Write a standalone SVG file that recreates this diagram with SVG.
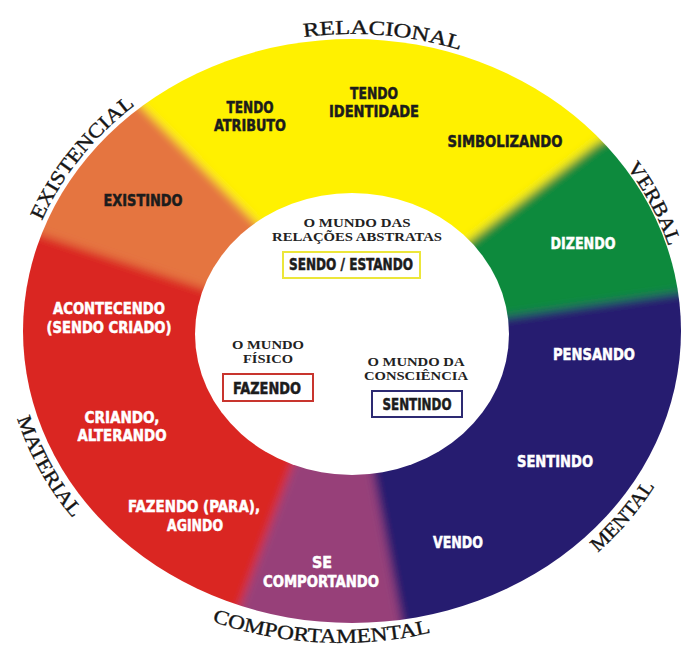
<svg xmlns="http://www.w3.org/2000/svg" width="685" height="647" viewBox="0 0 685 647">
<defs>
<style>
.proc{font-family:"Liberation Sans Narrow","Arial Narrow","DejaVu Sans Condensed","Liberation Sans",sans-serif;font-weight:bold;font-size:16px;text-anchor:middle;stroke-width:0.5px}
.dk{fill:#1c1c1c;stroke:#1c1c1c}
.lt{fill:#ffffff;stroke:#ffffff}
.cat{font-family:"Liberation Serif","Times New Roman",serif;font-size:20px;fill:#151515;stroke:#151515;stroke-width:0.35px;text-anchor:middle}
.world{font-family:"Liberation Serif","Times New Roman",serif;font-weight:bold;font-size:13px;text-anchor:middle;fill:#222}
.box{fill:#ffffff;stroke-width:2}
</style>
<clipPath id="ringClip"><ellipse cx="352" cy="331" rx="329" ry="292"/></clipPath>
<filter id="soft" x="-0.2" y="-0.2" width="1.4" height="1.4"><feGaussianBlur stdDeviation="5"/></filter>
<path id="arcRel" d="M162.8,86.2 A334,297 0 0 1 590.2,122.8"/>
<path id="arcExi" d="M19.5,359.5 A334,297 0 0 1 262.7,44.8"/>
<path id="arcVer" d="M496,66 A331,295 0 0 1 670.5,411"/>
<path id="arcMat" d="M14,253.4 A349,312 0 0 0 207.8,615.1"/>
<path id="arcMen" d="M434.6,634.1 A349,312 0 0 0 700.3,310.9"/>
<path id="arcCom" d="M182,610 A400,400 0 0 0 462,624"/>
</defs>

<g id="ring" clip-path="url(#ringClip)">
  <g filter="url(#soft)">
    <polygon id="seg-relacional" fill="#FFF100" points="352,332 255,222 143,108 3,-35 759,-35 759,53 596,144 473,238"/>
    <polygon id="seg-existencial" fill="#E57441" points="352,332 200,287 43,235 -52,204 -52,-35 3,-35 143,108 255,222"/>
    <polygon id="seg-material" fill="#DA2520" points="352,332 292,466 238,612 210,687 -52,687 -52,204 43,235 200,287"/>
    <polygon id="seg-comportamental" fill="#974079" points="352,332 373,474 401,620 416,699 210,687 238,612 292,466"/>
    <polygon id="seg-mental" fill="#281A70" points="352,332 509,316 680,292 759,281 759,699 416,699 401,620 373,474"/>
    <polygon id="seg-verbal" fill="#0B8A3E" points="352,332 473,238 596,144 759,53 759,281 680,292 509,316"/>
  </g>
</g>
<ellipse id="centre" cx="352" cy="334" rx="157" ry="141" fill="#ffffff"/>

<g id="relacional">
  <text class="cat"><textPath href="#arcRel" startOffset="50%" textLength="158" lengthAdjust="spacingAndGlyphs">RELACIONAL</textPath></text>
  <text class="proc dk" x="250" y="113" textLength="47" lengthAdjust="spacingAndGlyphs">TENDO</text>
  <text class="proc dk" x="250" y="131" textLength="72" lengthAdjust="spacingAndGlyphs">ATRIBUTO</text>
  <text class="proc dk" x="374" y="99" textLength="48" lengthAdjust="spacingAndGlyphs">TENDO</text>
  <text class="proc dk" x="374" y="117" textLength="90" lengthAdjust="spacingAndGlyphs">IDENTIDADE</text>
  <text class="proc dk" x="505" y="147" textLength="115" lengthAdjust="spacingAndGlyphs">SIMBOLIZANDO</text>
</g>
<g id="existencial">
  <text class="cat"><textPath href="#arcExi" startOffset="50%" textLength="150" lengthAdjust="spacingAndGlyphs">EXISTENCIAL</textPath></text>
  <text class="proc dk" x="143" y="206" textLength="79" lengthAdjust="spacingAndGlyphs">EXISTINDO</text>
</g>
<g id="verbal">
  <text class="cat"><textPath href="#arcVer" startOffset="50%" textLength="90" lengthAdjust="spacingAndGlyphs">VERBAL</textPath></text>
  <text class="proc lt" x="583" y="249" textLength="65" lengthAdjust="spacingAndGlyphs">DIZENDO</text>
</g>
<g id="mental">
  <text class="cat"><textPath href="#arcMen" startOffset="50%" textLength="88" lengthAdjust="spacingAndGlyphs">MENTAL</textPath></text>
  <text class="proc lt" x="594" y="360" textLength="82" lengthAdjust="spacingAndGlyphs">PENSANDO</text>
  <text class="proc lt" x="555" y="467" textLength="76" lengthAdjust="spacingAndGlyphs">SENTINDO</text>
  <text class="proc lt" x="458" y="548" textLength="50" lengthAdjust="spacingAndGlyphs">VENDO</text>
</g>
<g id="comportamental">
  <text class="cat"><textPath href="#arcCom" startOffset="50%" textLength="222" lengthAdjust="spacingAndGlyphs">COMPORTAMENTAL</textPath></text>
  <text class="proc lt" x="322" y="568" textLength="20" lengthAdjust="spacingAndGlyphs">SE</text>
  <text class="proc lt" x="321" y="587" textLength="116" lengthAdjust="spacingAndGlyphs">COMPORTANDO</text>
</g>
<g id="material">
  <text class="cat"><textPath href="#arcMat" startOffset="50%" textLength="115" lengthAdjust="spacingAndGlyphs">MATERIAL</textPath></text>
  <text class="proc lt" x="109" y="314" textLength="112" lengthAdjust="spacingAndGlyphs">ACONTECENDO</text>
  <text class="proc lt" x="109" y="333" textLength="125" lengthAdjust="spacingAndGlyphs">(SENDO CRIADO)</text>
  <text class="proc lt" x="122" y="423" textLength="75" lengthAdjust="spacingAndGlyphs">CRIANDO,</text>
  <text class="proc lt" x="122" y="441" textLength="89" lengthAdjust="spacingAndGlyphs">ALTERANDO</text>
  <text class="proc lt" x="194" y="512" textLength="132" lengthAdjust="spacingAndGlyphs">FAZENDO (PARA),</text>
  <text class="proc lt" x="195" y="531" textLength="56" lengthAdjust="spacingAndGlyphs">AGINDO</text>
</g>

<g id="mundo-relacoes">
  <text class="world" x="357" y="227" textLength="107" lengthAdjust="spacingAndGlyphs">O MUNDO DAS</text>
  <text class="world" x="357" y="241" textLength="170" lengthAdjust="spacingAndGlyphs">RELAÇÕES ABSTRATAS</text>
  <rect class="box" x="283" y="252" width="137" height="26" stroke="#ECE63A"/>
  <text class="proc dk" x="351" y="270" textLength="124" lengthAdjust="spacingAndGlyphs">SENDO / ESTANDO</text>
</g>
<g id="mundo-fisico">
  <text class="world" x="268" y="349" textLength="72" lengthAdjust="spacingAndGlyphs">O MUNDO</text>
  <text class="world" x="268" y="363" textLength="50" lengthAdjust="spacingAndGlyphs">FÍSICO</text>
  <rect class="box" x="223" y="374" width="90" height="27" stroke="#C8352E"/>
  <text class="proc dk" x="267" y="394" textLength="68" lengthAdjust="spacingAndGlyphs">FAZENDO</text>
</g>
<g id="mundo-consciencia">
  <text class="world" x="416" y="366" textLength="97" lengthAdjust="spacingAndGlyphs">O MUNDO DA</text>
  <text class="world" x="416" y="380" textLength="104" lengthAdjust="spacingAndGlyphs">CONSCIÊNCIA</text>
  <rect class="box" x="372" y="391" width="90" height="26" stroke="#2D2A72"/>
  <text class="proc dk" x="417" y="410" textLength="69" lengthAdjust="spacingAndGlyphs">SENTINDO</text>
</g>
</svg>
